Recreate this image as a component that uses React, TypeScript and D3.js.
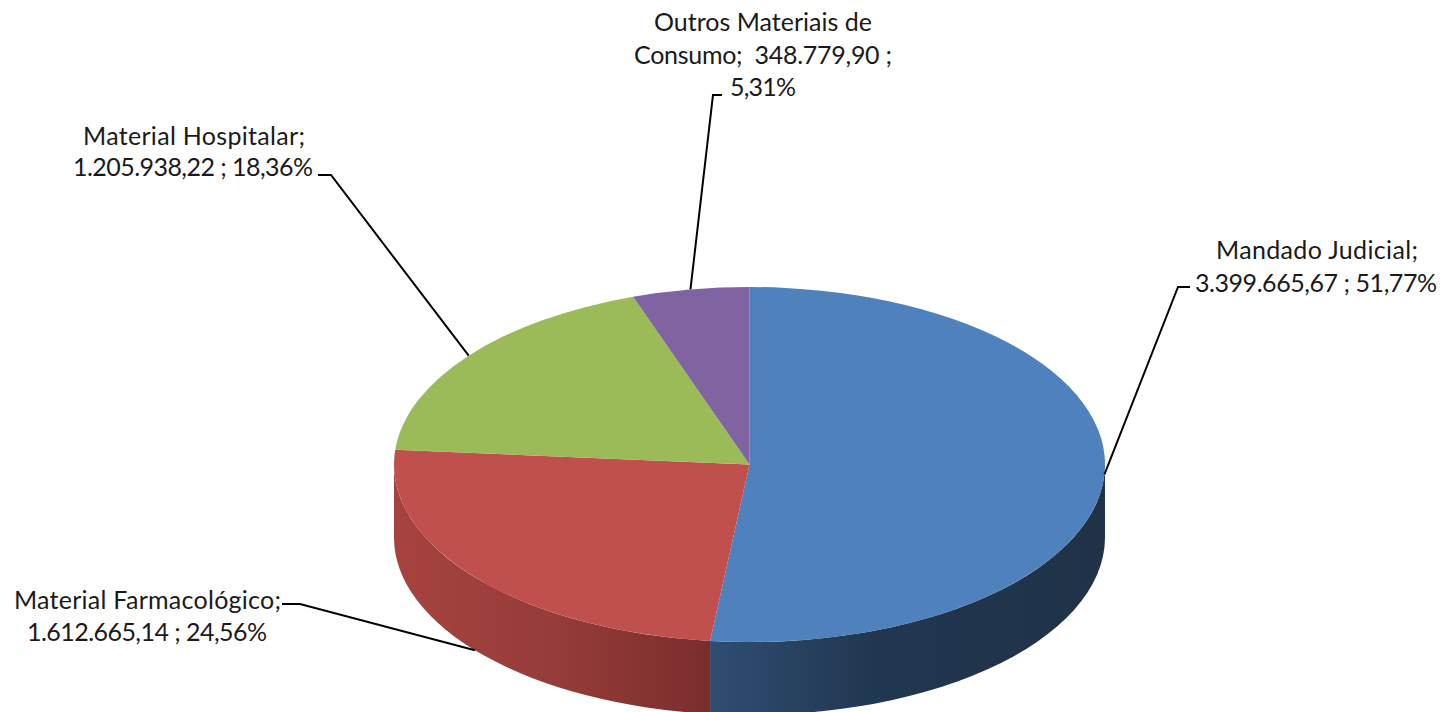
import React from "react";
import * as d3 from "d3";

// Spending per category, in reais, with the shares printed on the labels
const categories = ["Mandado Judicial", "Material Farmacológico", "Material Hospitalar", "Outros Materiais de Consumo"];
const amounts = [3399665.67, 1612665.14, 1205938.22, 348779.9];
const topColors = ["#4F81BD", "#C0504D", "#9BBB59", "#8064A2"];

const labelLines = [
  ["Mandado Judicial;", "3.399.665,67 ; 51,77%"],
  ["Material Farmacológico;", "1.612.665,14 ; 24,56%"],
  ["Material Hospitalar;", "1.205.938,22 ; 18,36%"],
  ["Outros Materiais de", "Consumo;  348.779,90 ;", "5,31%"],
];

// Per-line label placement: [left, right, baseline]
const labelBoxes = [
  [[1216, 1418, 259], [1195, 1437, 292]],
  [[14, 281, 609], [27, 267, 641]],
  [[83, 305, 145], [73, 313, 176]],
  [[654, 872, 31], [634, 892, 64], [730, 796, 96]],
];

// Leader elbows: where the line leaves the label, and its bend
const leaderElbows = [
  [[1190, 287], [1178, 287]],
  [[282, 604], [300, 604]],
  [[318, 175], [331, 175]],
  [[722, 95], [713, 95]],
];

const WIDTH = 1440;
const HEIGHT = 712;
const CX = 749.5;
const CY = 464.5;
const RX = 355.5;
const RY = 177.5;
const DEPTH = 73;
const SQUASH = RY / RX;

const slices = d3.pie<number>().sort(null).value((d) => d)(amounts);
const topArc = d3.arc<d3.PieArcDatum<number>>().innerRadius(0).outerRadius(RX);

// d3 pie angles run clockwise from 12 o'clock; canvas angles from 3 o'clock
const toCanvas = (a: number) => a - Math.PI / 2;

// Point on the rim of the flattened disc for a pie angle
const rimPoint = (a: number, drop = 0): [number, number] => [
  CX + RX * Math.sin(a),
  CY - RY * Math.cos(a) + drop,
];

// Outer wall between two pie angles, in the unsquashed coordinate system
function wallPath(a0: number, a1: number): string {
  const depth = DEPTH / SQUASH;
  const p = d3.path();
  p.moveTo(RX * Math.cos(toCanvas(a0)), RX * Math.sin(toCanvas(a0)));
  p.arc(0, 0, RX, toCanvas(a0), toCanvas(a1), false);
  p.lineTo(RX * Math.cos(toCanvas(a1)), RX * Math.sin(toCanvas(a1)) + depth);
  p.arc(0, depth, RX, toCanvas(a1), toCanvas(a0), true);
  p.closePath();
  return p.toString();
}

// Only the part of a slice facing the viewer has a visible wall
const FRONT_START = Math.PI / 2;
const FRONT_END = (3 * Math.PI) / 2;
const walls = slices
  .map((s, i) => ({
    i,
    a0: Math.max(s.startAngle, FRONT_START),
    a1: Math.min(s.endAngle, FRONT_END),
  }))
  .filter((w) => w.a1 > w.a0);

const leaderLine = d3.line();

export default function App() {
  return (
    <svg
      width={WIDTH}
      height={HEIGHT}
      viewBox={`0 0 ${WIDTH} ${HEIGHT}`}
      style={{ position: "absolute", left: 0, top: 0, background: "#fff" }}
    >
      <defs>
        <linearGradient id="wall-0" gradientUnits="userSpaceOnUse" x1={-40} x2={355} y1={0} y2={0}>
          <stop offset="0" stopColor="#2F4D72" />
          <stop offset="0.42" stopColor="#213750" />
          <stop offset="1" stopColor="#1F3248" />
        </linearGradient>
        <linearGradient id="wall-1" gradientUnits="userSpaceOnUse" x1={-355} x2={-40} y1={0} y2={0}>
          <stop offset="0" stopColor="#A64340" />
          <stop offset="0.5" stopColor="#963C39" />
          <stop offset="1" stopColor="#7A2E2C" />
        </linearGradient>
      </defs>

      <g transform={`translate(${CX},${CY}) scale(1,${SQUASH})`}>
        {walls.map((w) => (
          <path key={categories[w.i]} d={wallPath(w.a0, w.a1)} fill={`url(#wall-${w.i})`} />
        ))}
        {slices.map((s, i) => (
          <path key={categories[i]} d={topArc(s) ?? ""} fill={topColors[i]} />
        ))}
      </g>

      {slices.map((s, i) => {
        const mid = (s.startAngle + s.endAngle) / 2;
        // The second slice's leader attaches to the bottom edge of its wall
        const onWall = i === 1;
        const end = rimPoint(mid, onWall ? DEPTH : 0);
        return (
          <path
            key={categories[i]}
            d={leaderLine([...(leaderElbows[i] as [number, number][]), end]) ?? ""}
            fill="none"
            stroke="#000"
            strokeWidth={2}
          />
        );
      })}

      <g fontFamily="Lato, sans-serif" fontSize={25} fill="#1a1a1a">
        {labelLines.map((lines, i) =>
          lines.map((line, j) => {
            const [left, right, baseline] = labelBoxes[i][j];
            return (
              <text
                key={line}
                x={left}
                y={baseline}
                textLength={right - left}
                lengthAdjust="spacing"
                xmlSpace="preserve"
              >
                {line}
              </text>
            );
          }),
        )}
      </g>
    </svg>
  );
}
